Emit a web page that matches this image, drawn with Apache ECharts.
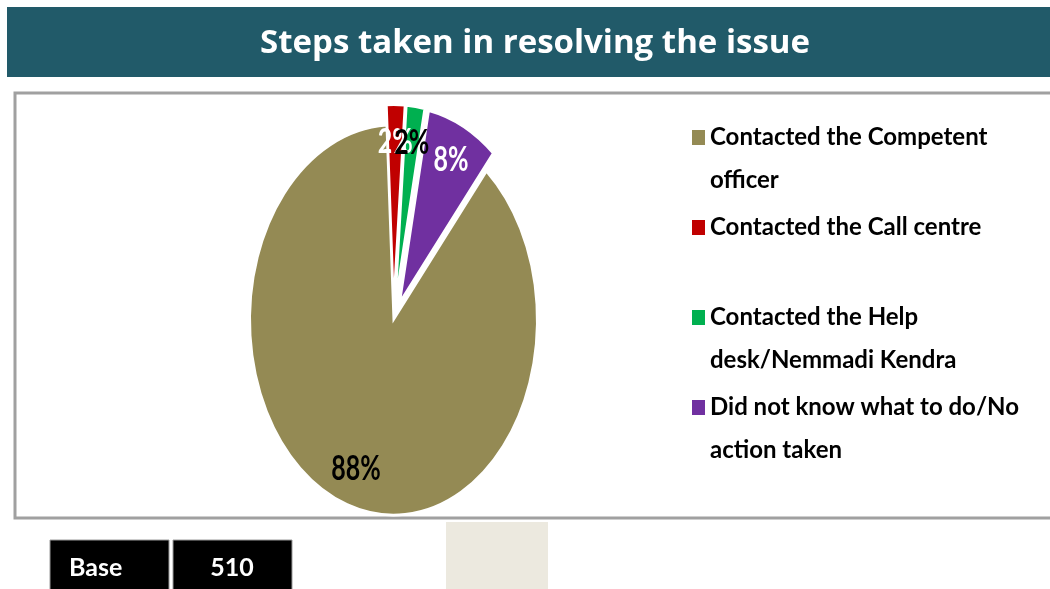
<!DOCTYPE html>
<html>
<head>
<meta charset="utf-8">
<script src="https://cdn.jsdelivr.net/npm/echarts@6/dist/echarts.min.js"></script>
<style>
  html, body { margin: 0; padding: 0; background: #ffffff; }
  #chart { width: 1050px; height: 589px; }
</style>
</head>
<body>
<div id="chart"></div>
<script>
// ---- data ----
const categories = [
  'Contacted the Competent officer',
  'Contacted the Call centre',
  'Contacted the Help desk/Nemmadi Kendra',
  'Did not know what to do/No action taken'
];
const legendLines = [
  'Contacted the Competent\nofficer',
  'Contacted the Call centre\n',
  'Contacted the Help\ndesk/Nemmadi Kendra',
  'Did not know what to do/No\naction taken'
];
const shares = [88, 2, 2, 8];          // percent of respondents
const baseSize = 510;                   // number of respondents
const titleText = 'Steps taken in resolving the issue';

// ---- styling ----
const colors = ['#948A54', '#C00000', '#00B050', '#7030A0'];
const labelColors = ['#000000', '#ffffff', '#000000', '#ffffff'];
const sliceOffsets = [0, 15, 15, 15];   // exploded slices
const PIE = { cx: 393.5, cy: 320, r: 143.5, yStretch: 1.359, firstAngle: 40.4, labelPos: 0.81 };

const total = shares.reduce((a, b) => a + b, 0);
const starts = shares.map((_, i) => shares.slice(0, i).reduce((a, b) => a + b, 0));

// One elliptical (vertically stretched) pie slice with its percentage label
function renderSlice(params, api) {
  const i = params.seriesIndex;
  const v = api.value(0);
  const s = api.value(1);
  const a0 = (PIE.firstAngle + s / total * 360 - 90) * Math.PI / 180;
  const a1 = a0 + v / total * 2 * Math.PI;
  const mid = (a0 + a1) / 2;
  const off = sliceOffsets[i];
  const ox = PIE.cx + off * Math.cos(mid);
  const oy = PIE.cy + off * Math.sin(mid);
  const lr = PIE.r * PIE.labelPos;
  return {
    type: 'group',
    scaleY: PIE.yStretch,
    originX: PIE.cx,
    originY: PIE.cy,
    children: [
      {
        type: 'sector',
        shape: { cx: ox, cy: oy, r0: 0, r: PIE.r, startAngle: a0, endAngle: a1, clockwise: true },
        style: { fill: api.visual('color'), stroke: '#ffffff', lineWidth: 2 }
      },
      {
        type: 'text',
        z2: 100,
        style: {
          text: v + '%',
          x: ox + lr * Math.cos(mid),
          y: oy + lr * Math.sin(mid),
          align: 'center',
          verticalAlign: 'middle',
          fill: labelColors[i],
          fontFamily: 'Lato',
          fontWeight: 'bold',
          fontSize: 25
        }
      }
    ]
  };
}

const chart = echarts.init(document.getElementById('chart'));
chart.setOption({
  animation: false,
  backgroundColor: '#ffffff',
  title: {
    text: titleText,
    left: 535,
    textAlign: 'center',
    top: 27,
    padding: 0,
    textStyle: { color: '#ffffff', fontFamily: 'Open Sans', fontWeight: 'bold', fontSize: 33 }
  },
  legend: {
    orient: 'vertical',
    left: 692,
    top: 116,
    padding: 0,
    itemGap: 4,
    itemWidth: 13,
    itemHeight: 58,
    icon: 'path://M0,0H13V15H0Z M0,58',
    selectedMode: false,
    data: categories,
    formatter: name => legendLines[categories.indexOf(name)],
    textStyle: { fontFamily: 'Lato', fontWeight: 'bold', fontSize: 24, lineHeight: 43, color: '#000000' }
  },
  graphic: [
    { type: 'rect', z: -10, shape: { x: 7, y: 7, width: 1043, height: 70 }, style: { fill: '#215A69' } },
    { type: 'rect', z: -10, shape: { x: 15, y: 93, width: 1050, height: 425 }, style: { fill: 'none', stroke: '#a0a0a0', lineWidth: 3 } },
    { type: 'rect', z: -10, shape: { x: 446, y: 522, width: 102, height: 67 }, style: { fill: '#ECE9DF' } },
    { type: 'rect', shape: { x: 50, y: 540, width: 119, height: 60 }, style: { fill: '#000000', stroke: '#9a9a9a', lineWidth: 1 } },
    { type: 'rect', shape: { x: 173, y: 540, width: 119, height: 60 }, style: { fill: '#000000', stroke: '#9a9a9a', lineWidth: 1 } },
    { type: 'text', style: { text: 'Base', x: 69, y: 568, align: 'left', verticalAlign: 'middle', fill: '#ffffff', fontFamily: 'Lato', fontWeight: 'bold', fontSize: 25 } },
    { type: 'text', style: { text: String(baseSize), x: 232, y: 568, align: 'center', verticalAlign: 'middle', fill: '#ffffff', fontFamily: 'Lato', fontWeight: 'bold', fontSize: 25 } }
  ],
  series: categories.map((name, i) => ({
    type: 'custom',
    name: name,
    coordinateSystem: 'none',
    renderItem: renderSlice,
    silent: true,
    itemStyle: { color: colors[i] },
    dimensions: ['share', 'start'],
    data: [[shares[i], starts[i]]]
  }))
});
</script>
</body>
</html>
